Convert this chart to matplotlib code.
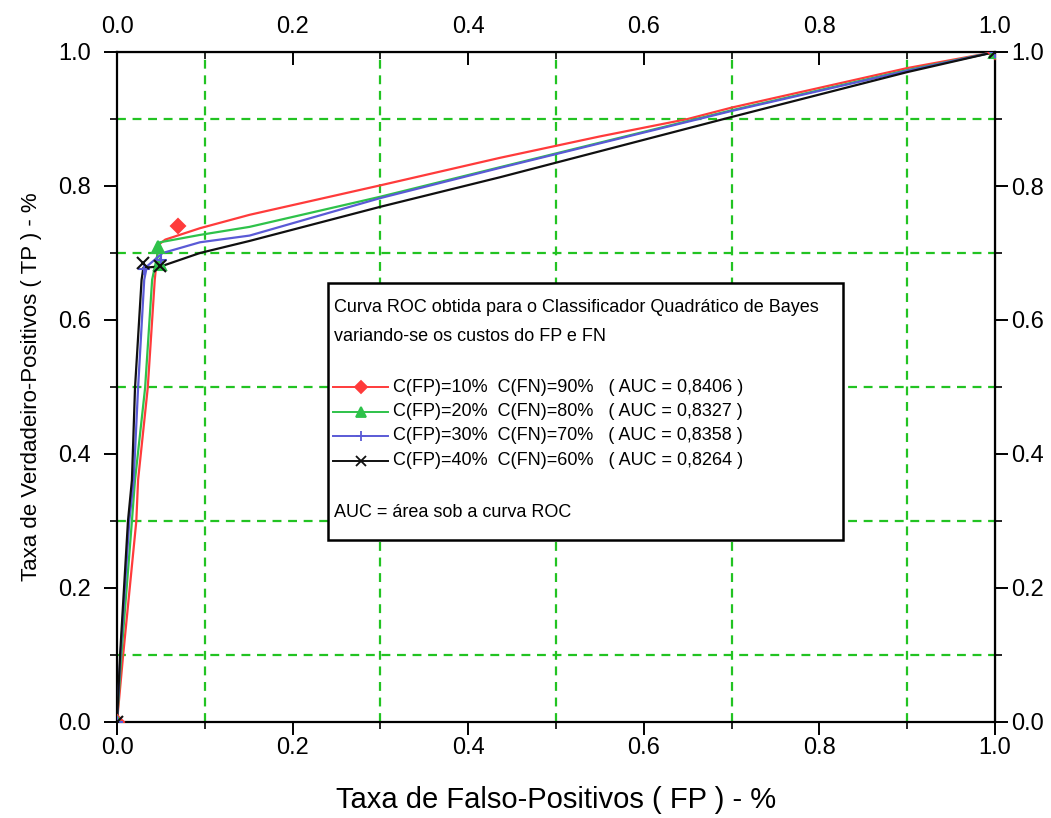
import matplotlib
matplotlib.use('Agg')
import matplotlib.pyplot as plt
from matplotlib.patches import Rectangle
from matplotlib.ticker import MultipleLocator

plt.rcParams['font.family'] = ['Liberation Sans', 'DejaVu Sans']

# ROC curves (FP rate, TP rate)
fp_10 = [0, 0.007, 0.022, 0.024, 0.035, 0.043, 0.047, 0.055, 0.0945, 0.151, 0.3, 0.436, 0.55, 0.65, 0.7, 0.778, 0.9, 1.0]
tp_10 = [0, 0.1, 0.3, 0.361, 0.4985, 0.66, 0.712, 0.72, 0.737, 0.757, 0.801, 0.842, 0.874, 0.9, 0.917, 0.940, 0.976, 1.0]

fp_20 = [0, 0.005, 0.017, 0.0205, 0.032, 0.040, 0.049, 0.0945, 0.151, 0.3, 0.436, 0.7, 0.9, 1.0]
tp_20 = [0, 0.1, 0.3, 0.361, 0.4985, 0.66, 0.716, 0.727, 0.739, 0.784, 0.828, 0.913, 0.973, 1.0]

fp_30 = [0, 0.004, 0.014, 0.019, 0.024, 0.031, 0.034, 0.052, 0.0945, 0.151, 0.3, 0.436, 0.7, 0.9, 1.0]
tp_30 = [0, 0.1, 0.3, 0.361, 0.4985, 0.66, 0.68, 0.70, 0.716, 0.726, 0.782, 0.827, 0.912, 0.972, 1.0]

fp_40 = [0, 0.0035, 0.0125, 0.017, 0.0205, 0.028, 0.030, 0.05, 0.0945, 0.151, 0.3, 0.436, 0.7, 0.9, 1.0]
tp_40 = [0, 0.1, 0.3, 0.361, 0.4985, 0.66, 0.678, 0.68, 0.70, 0.718, 0.769, 0.813, 0.903, 0.970, 1.0]

# points where the markers show
mk_fp_10 = [0, 0.069, 1.0]
mk_tp_10 = [0, 0.740, 1.0]
mk_fp_20 = [0, 0.047, 0.049, 1.0]
mk_tp_20 = [0, 0.709, 0.684, 1.0]
mk_fp_30 = [0, 0.031, 0.05, 1.0]
mk_tp_30 = [0, 0.676, 0.69, 1.0]
mk_fp_40 = [0, 0.030, 0.049, 1.0]
mk_tp_40 = [0, 0.685, 0.680, 1.0]

costs_fp = ['10%', '20%', '30%', '40%']
costs_fn = ['90%', '80%', '70%', '60%']
auc = ['0,8406', '0,8327', '0,8358', '0,8264']

colors = ['#ff3b3b', '#2ec24a', '#5a5ad6', '#101010']
markers = ['D', '^', '+', 'x']

series = [(fp_10, tp_10, mk_fp_10, mk_tp_10),
          (fp_20, tp_20, mk_fp_20, mk_tp_20),
          (fp_30, tp_30, mk_fp_30, mk_tp_30),
          (fp_40, tp_40, mk_fp_40, mk_tp_40)]

fig = plt.figure(figsize=(10.51, 8.18), dpi=100)
ax = fig.add_axes([117/1051, 1 - 722/818, 878/1051, 670/818])

for (fp, tp, mfp, mtp), c, m in zip(series, colors, markers):
    ax.plot(fp, tp, color=c, lw=1.6, zorder=3)
    ax.plot(mfp, mtp, ls='none', marker=m, color=c, ms=7 if m == 'D' else 8,
            mew=1.5, zorder=4)

ax.set_xlim(0, 1)
ax.set_ylim(0, 1)
ax.xaxis.set_major_locator(MultipleLocator(0.2))
ax.yaxis.set_major_locator(MultipleLocator(0.2))
ax.xaxis.set_minor_locator(MultipleLocator(0.1))
ax.yaxis.set_minor_locator(MultipleLocator(0.1))
ax.xaxis.set_major_formatter('{x:.1f}')
ax.yaxis.set_major_formatter('{x:.1f}')
ax.grid(which='minor', color='#22c322', ls=(0, (4, 3)), lw=1.6)
ax.tick_params(which='major', direction='out', length=9.5, width=1.4,
               labelsize=17, pad=1)
ax.tick_params(which='minor', direction='out', length=5, width=1.2)
ax.tick_params(axis='y', which='major', pad=9)
for s in ax.spines.values():
    s.set_linewidth(1.6)

top = ax.secondary_xaxis('top')
top.xaxis.set_major_locator(MultipleLocator(0.2))
top.xaxis.set_minor_locator(MultipleLocator(0.1))
top.xaxis.set_major_formatter('{x:.1f}')
top.tick_params(which='major', direction='in', length=9.5, width=1.4,
                labelsize=17, pad=10)
top.tick_params(which='minor', direction='in', length=5, width=1.2)

right = ax.secondary_yaxis('right')
right.yaxis.set_major_locator(MultipleLocator(0.2))
right.yaxis.set_minor_locator(MultipleLocator(0.1))
right.yaxis.set_major_formatter('{x:.1f}')
right.tick_params(which='major', direction='out', length=9.5, width=1.4,
                  labelsize=17, pad=2)
right.tick_params(which='minor', direction='out', length=5, width=1.2)

ax.set_xlabel('Taxa de Falso-Positivos ( FP ) - %', fontsize=21, labelpad=20)
ax.set_ylabel('Taxa de Verdadeiro-Positivos ( TP ) - %', fontsize=16, labelpad=12)

# legend box
ax.add_patch(Rectangle((0.240, 0.272), 0.587, 0.383, facecolor='white',
                       edgecolor='black', lw=1.8, zorder=5))
ax.text(0.247, 0.618, 'Curva ROC obtida para o Classificador Quadrático de Bayes',
        fontsize=13, va='center', ha='left', zorder=6)
ax.text(0.247, 0.576, 'variando-se os custos do FP e FN',
        fontsize=13, va='center', ha='left', zorder=6)
row_y = [0.5, 0.4627, 0.4269, 0.3896]
for i in range(4):
    ax.plot([0.246, 0.309], [row_y[i], row_y[i]], color=colors[i], lw=1.4, zorder=6)
    ax.plot([0.2775], [row_y[i]], marker=markers[i], color=colors[i],
            ms=6 if markers[i] == 'D' else 7, mew=1.3, zorder=7)
    ax.text(0.3144, row_y[i],
            f'C(FP)={costs_fp[i]}  C(FN)={costs_fn[i]}   ( AUC = {auc[i]} )',
            fontsize=13, va='center', ha='left', zorder=6)
ax.text(0.247, 0.3134, 'AUC = área sob a curva ROC', fontsize=13,
        va='center', ha='left', zorder=6)

fig.savefig('out.png', dpi=100)
